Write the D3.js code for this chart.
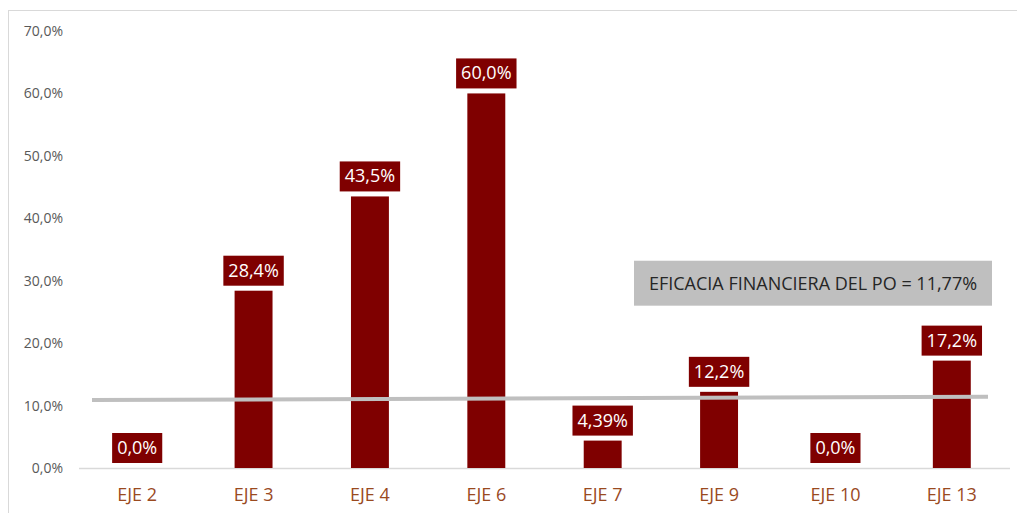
<!DOCTYPE html>
<html>
<head>
<meta charset="utf-8">
<script src="https://cdn.jsdelivr.net/npm/d3@7"></script>
<style>
  body { margin: 0; background: #fff; }
  svg { display: block; font-family: "Open Sans", sans-serif; }
</style>
</head>
<body>
<svg id="chart"></svg>
<script>
// data
const categories = ['EJE 2', 'EJE 3', 'EJE 4', 'EJE 6', 'EJE 7', 'EJE 9', 'EJE 10', 'EJE 13']
const values = [0, 28.4, 43.5, 60.0, 4.39, 12.2, 0, 17.2]
const valueLabels = ['0,0%', '28,4%', '43,5%', '60,0%', '4,39%', '12,2%', '0,0%', '17,2%']
const yTicks = [0, 10, 20, 30, 40, 50, 60, 70]
const yTickLabels = ['0,0%', '10,0%', '20,0%', '30,0%', '40,0%', '50,0%', '60,0%', '70,0%']
const refLine = [10.9, 11.4]   // hand drawn grey line, left end / right end
const boxText = 'EFICACIA FINANCIERA DEL PO = 11,77%'

const W = 1017, H = 513
const barColor = '#7f0000'

const svg = d3.select('#chart')
    .attr('width', W)
    .attr('height', H)

// chart frame
svg.append('rect')
    .attr('x', 8.5).attr('y', 10.5)
    .attr('width', W + 20).attr('height', H + 20)
    .attr('fill', 'none')
    .attr('stroke', '#d9d9d9')

const x = d3.scaleBand()
    .domain(categories)
    .range([79, 1010])
    .paddingInner(0.674)
    .paddingOuter(0.337)

const y = d3.scaleLinear()
    .domain([0, 70])
    .range([468, 31])

// y axis labels (no line)
const yAxis = d3.axisLeft(y)
    .tickValues(yTicks)
    .tickFormat((d, i) => yTickLabels[i])
    .tickSize(0)
    .tickPadding(0)

const yAxisG = svg.append('g')
    .attr('transform', 'translate(63,0)')
    .call(yAxis)
yAxisG.select('.domain').remove()
yAxisG.selectAll('text')
    .attr('fill', '#595959')
    .style('font-size', '14px')
    .style('font-family', '"Open Sans", sans-serif')

// baseline
svg.append('line')
    .attr('x1', x.range()[0]).attr('x2', x.range()[1])
    .attr('y1', y(0) + 0.5).attr('y2', y(0) + 0.5)
    .attr('stroke', '#d9d9d9')
    .attr('stroke-width', 1.5)

// x axis labels
const xAxis = d3.axisBottom(x).tickSize(0).tickPadding(0)
const xAxisG = svg.append('g')
    .attr('transform', `translate(0,${y(0)})`)
    .call(xAxis)
xAxisG.select('.domain').remove()
xAxisG.selectAll('text')
    .attr('dy', 0)
    .attr('y', 33)
    .attr('fill', '#9a4a1f')
    .style('font-size', '18px')
    .style('font-family', '"Open Sans", sans-serif')

// bars
svg.selectAll('rect.bar')
    .data(values)
    .join('rect')
        .attr('class', 'bar')
        .attr('x', (d, i) => x(categories[i]))
        .attr('y', d => y(d))
        .attr('width', x.bandwidth())
        .attr('height', d => y(0) - y(d))
        .attr('fill', barColor)

// grey reference line
svg.append('line')
    .attr('x1', x.range()[0] + 13).attr('y1', y(refLine[0]))
    .attr('x2', x.range()[1] - 22).attr('y2', y(refLine[1]))
    .attr('stroke', '#bfbfbf')
    .attr('stroke-width', 4)

// value labels in dark red boxes
const labels = svg.selectAll('g.vlabel')
    .data(values)
    .join('g')
        .attr('class', 'vlabel')
        .attr('transform', (d, i) => `translate(${x(categories[i]) + x.bandwidth() / 2},${y(d) - 5})`)

labels.append('rect')
    .attr('fill', barColor)
labels.append('text')
    .attr('text-anchor', 'middle')
    .attr('y', -9)
    .attr('fill', '#fff')
    .style('font-size', '18px')
    .text((d, i) => valueLabels[i])

labels.each(function () {
    const g = d3.select(this)
    const tw = g.select('text').node().getComputedTextLength()
    g.select('rect')
        .attr('x', -(tw + 10) / 2)
        .attr('y', -30)
        .attr('width', tw + 10)
        .attr('height', 30)
})

// annotation box
const boxG = svg.append('g')
boxG.append('rect')
    .attr('x', 634)
    .attr('y', y(33.2))
    .attr('width', 358)
    .attr('height', y(26.0) - y(33.2))
    .attr('fill', '#bfbfbf')
boxG.append('text')
    .attr('x', 634 + 179)
    .attr('y', (y(33.2) + y(26.0)) / 2 + 6.5)
    .attr('text-anchor', 'middle')
    .attr('fill', '#262626')
    .style('font-size', '18px')
    .text(boxText)
</script>
</body>
</html>
